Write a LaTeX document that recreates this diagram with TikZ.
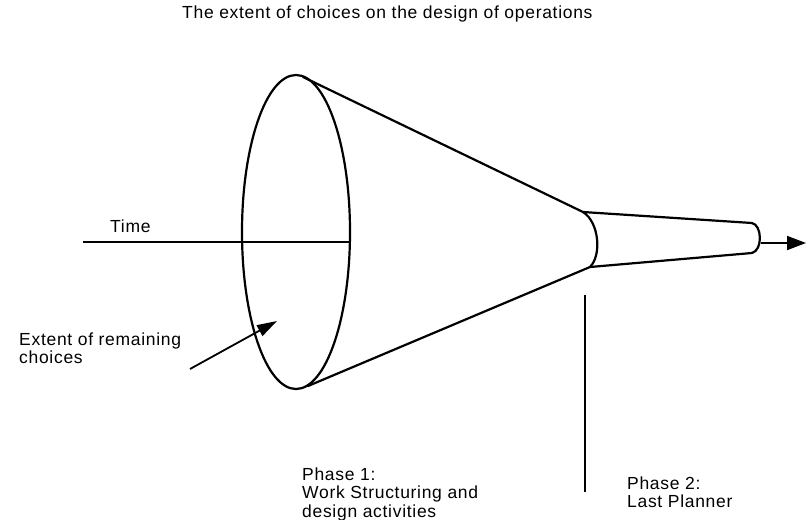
\documentclass[tikz,border=0pt]{standalone}
\usepackage{fontspec}
\setmainfont{Liberation Sans}[LetterSpace=4]
\usetikzlibrary{arrows.meta}
\begin{document}
\begin{tikzpicture}[x=1pt,y=-1pt,
  lbl/.style={font=\fontsize{17.5}{18.5}\selectfont, inner sep=0pt, anchor=base west},
  main/.style={line width=2.2pt, line join=round, line cap=round},
  thinline/.style={line width=1.6pt},
  arr/.style={line width=1.8pt, -{Triangle[length=20pt,width=12pt]}}]
\useasboundingbox (0,0) rectangle (807,520);
% title
\node[lbl] (title) at (182,18) {The extent of choices on the design of operations};
% big ellipse
\coordinate (ec) at (296,232);
\draw[main] (ec) ellipse [x radius=54pt, y radius=157pt];
% cone and tube
\coordinate (t1) at (303,77);
\coordinate (t2) at (583,212);
\coordinate (t3) at (752,223);
\coordinate (b1) at (308,386);
\coordinate (b2) at (590,267);
\coordinate (b3) at (752,253);
\draw[main] (t1) -- (t2) -- (t3);
\draw[main] (b1) -- (b2) -- (b3);
\draw[main] (t2) .. controls (599,222) and (602,255) .. (b2);
\draw[main] (t3) .. controls (762,225) and (763,250) .. (b3);
% output arrow
\coordinate (endcap) at (761,243);
\coordinate (outtip) at (806,243);
\draw[arr, -{Triangle[length=19pt,width=14pt]}] (endcap) -- (outtip);
% time line
\coordinate (ts) at (83,242);
\coordinate (te) at (350,242);
\draw[thinline] (ts) -- (te);
\node[lbl] (time) at (110,232) {Time};
% extent arrow
\node[lbl] (ext1) at (19,345) {Extent of remaining};
\node[lbl] (ext2) at (19,363.5) {choices};
\coordinate (as) at (190,369);
\coordinate (ae) at (277,321);
\draw[arr] (as) -- (ae);
% phase divider
\coordinate (vt) at (585,295);
\coordinate (vb) at (585,492);
\draw[line width=2.5pt] (vt) -- (vb);
% phase labels
\node[lbl] (p1a) at (302,480) {Phase 1:};
\node[lbl] (p1b) at (302,498.5) {Work Structuring and};
\node[lbl] (p1c) at (302,517) {design activities};
\node[lbl] (p2a) at (627,489) {Phase 2:};
\node[lbl] (p2b) at (627,507.5) {Last Planner};
\end{tikzpicture}
\end{document}
